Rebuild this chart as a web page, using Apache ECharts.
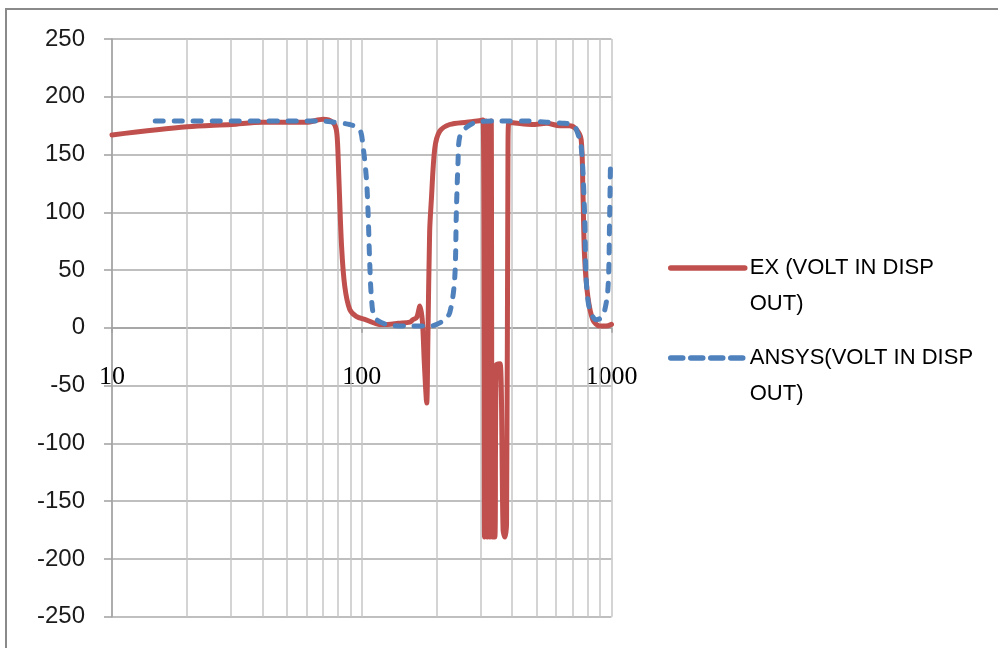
<!DOCTYPE html>
<html>
<head>
<meta charset="utf-8">
<script src="https://cdn.jsdelivr.net/npm/echarts@6/dist/echarts.min.js"></script>
<style>
html,body{margin:0;padding:0;background:#fff;}
#chart{width:998px;height:648px;}
</style>
</head>
<body>
<div id="chart"></div>
<script>
// ---- data ----
var seriesNames = ['EX (VOLT IN DISP OUT)', 'ANSYS(VOLT IN DISP OUT)'];

var exFreq = [10, 20, 30, 40, 51, 60, 70, 76.6, 79, 80, 81, 83, 85.5, 89.5, 95, 104, 118, 127, 140, 156,
  160, 166, 171, 175, 178, 182, 184, 187, 190, 196, 205, 225, 263, 290, 306,
  310, 314, 318, 322, 326, 330, 334, 341, 346, 358, 368, 374, 380, 385, 388,
  420, 480, 550, 620, 680, 722, 756, 768, 780, 804, 842, 895, 950, 1000];
var exVolt = [167, 174, 176, 178, 178, 178, 180.5, 178, 172, 160, 129, 71, 36, 16, 10, 7, 3, 3, 4, 5,
  7, 9, 19, 5, -30, -65, -10, 83, 111, 155, 170, 176, 178, 179, 180,
  -181, 179, -181, 178, -181, 179, -181, -181, -32, -31, -175, -181, -170, 150, 178,
  177, 176, 177, 175, 175, 172, 163, 120, 62, 27, 7, 1.5, 1.5, 3];

var ansysFreq = [14.9, 20, 30, 40, 50, 60, 70, 77, 89.5, 98, 101.2, 104.4, 106, 107.6, 109.3, 112.7, 125.5,
  155.6, 187, 211.5, 225, 235.5, 239.2, 242.9, 246.6, 262.4, 287.4, 350, 450, 550, 650, 700,
  722, 756, 780, 792, 817, 868, 923, 967, 982, 991];
var ansysVolt = [179, 179, 179, 179, 179, 179, 179, 178, 176, 172, 157, 129, 100, 57, 27, 9, 3,
  1.5, 1.5, 6, 13, 42, 100, 143, 165, 173.5, 178, 179, 179, 178, 177, 176,
  172, 157, 100, 42, 16, 7, 10, 33, 91, 145];

var xTickLabels = [10, 100, 1000];
var minorGridFreq = [20, 30, 40, 50, 60, 70, 80, 90, 200, 300, 400, 500, 600, 700, 800, 900];
var yMin = -250, yMax = 250, yStep = 50;

function pairs(xs, ys) {
  var out = [];
  for (var i = 0; i < xs.length; i++) out.push([xs[i], ys[i]]);
  return out;
}

var chart = echarts.init(document.getElementById('chart'), null, {renderer: 'canvas'});

var gridTop = 39, gridBottom = 31.3, chartH = 648;
var plotH = chartH - gridTop - gridBottom;
// distance from the bottom edge of the plot up to the y = 0 line
var zeroOffset = plotH * (0 - yMin) / (yMax - yMin);

var legendText = {
  fontFamily: 'Liberation Sans',
  fontSize: 22,
  color: '#000',
  lineHeight: 36
};
function legendFmt(name) {
  return ' \n' + name.replace(' OUT)', '\nOUT)');
}

var option = {
  animation: false,
  backgroundColor: '#fff',
  grid: {left: 112, right: 386.5, top: gridTop, bottom: gridBottom, containLabel: false, outerBoundsMode: 'none'},
  xAxis: {
    type: 'log',
    logBase: 10,
    min: xTickLabels[0],
    max: xTickLabels[xTickLabels.length - 1],
    offset: -zeroOffset,
    axisLine: {show: true, onZero: false, lineStyle: {color: '#a0a0a0', width: 1.5}},
    axisTick: {show: true, length: 5, lineStyle: {color: '#a0a0a0', width: 1.5}},
    axisLabel: {
      show: true,
      margin: 36,
      fontFamily: 'Liberation Serif',
      fontSize: 26,
      color: '#000',
      formatter: function (v) { return String(Math.round(v)); }
    },
    splitLine: {show: true, lineStyle: {color: '#c6c6c6', width: 1.5}},
    minorTick: {show: false},
    minorSplitLine: {show: false}
  },
  yAxis: {
    type: 'value',
    min: yMin,
    max: yMax,
    interval: yStep,
    axisLine: {show: true, lineStyle: {color: '#a0a0a0', width: 1.5}},
    axisTick: {show: true, length: 8, lineStyle: {color: '#a0a0a0', width: 1.5}},
    axisLabel: {
      margin: 27,
      fontFamily: 'Liberation Sans',
      fontSize: 24,
      color: '#1a1a1a'
    },
    splitLine: {show: true, lineStyle: {color: '#aaaaaa', width: 1.5}}
  },
  legend: [
    {
      data: [seriesNames[0]],
      orient: 'vertical',
      left: 668, top: 214,
      padding: 0,
      itemWidth: 74, itemHeight: 14,
      selectedMode: false,
      formatter: legendFmt,
      textStyle: legendText,
      itemStyle: {opacity: 0},
      lineStyle: {width: 5.5, color: '#C0504D', cap: 'round'}
    },
    {
      data: [seriesNames[1]],
      orient: 'vertical',
      left: 668, top: 304,
      padding: 0,
      itemWidth: 74, itemHeight: 14,
      selectedMode: false,
      formatter: legendFmt,
      textStyle: legendText,
      itemStyle: {opacity: 0},
      lineStyle: {width: 5.5, color: '#4F81BD', type: [12, 8], cap: 'round'}
    }
  ],
  graphic: [
    {
      type: 'rect',
      silent: true,
      z: -10,
      shape: {x: 6, y: 9, width: 1200, height: 1000},
      style: {fill: 'none', stroke: '#8a8a8a', lineWidth: 2}
    }
  ],
  series: [
    {
      name: seriesNames[0],
      type: 'line',
      data: pairs(exFreq, exVolt),
      symbol: 'none',
      smooth: 0.3,
      z: 3,
      lineStyle: {color: '#C0504D', width: 5, cap: 'round', join: 'round'},
      itemStyle: {color: '#C0504D'},
      markLine: {
        silent: true,
        z: 1,
        symbol: ['none', 'none'],
        label: {show: false},
        lineStyle: {color: '#c6c6c6', width: 1.5, type: 'solid'},
        emphasis: {disabled: true},
        data: minorGridFreq.map(function (f) { return {xAxis: f}; })
      }
    },
    {
      name: seriesNames[1],
      type: 'line',
      data: pairs(ansysFreq, ansysVolt),
      symbol: 'none',
      smooth: 0.3,
      z: 4,
      lineStyle: {color: '#4F81BD', width: 5, type: [8, 11], cap: 'round', join: 'round'},
      itemStyle: {color: '#4F81BD'}
    }
  ]
};
chart.setOption(option);
</script>
</body>
</html>
